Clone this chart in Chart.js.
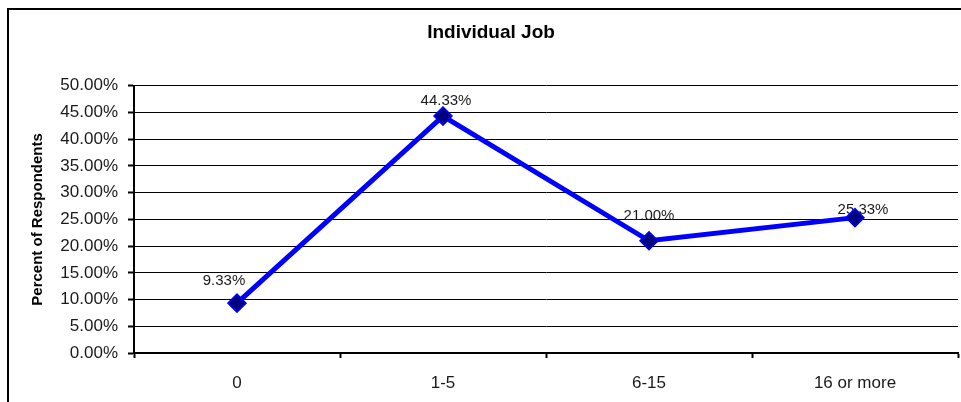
<!DOCTYPE html>
<html lang="en">
<head>
  <meta charset="UTF-8">
  <title>Individual Job</title>
  <script src="https://cdn.jsdelivr.net/npm/chart.js"></script>
  <style>
    html, body { margin: 0; padding: 0; background: #fff; overflow: hidden; }
    .wrap { position: relative; width: 961px; height: 402px; }
    .moldura { position: absolute; left: 7px; top: 8px; width: 1000px; height: 500px; border: 2px solid #000; box-sizing: border-box; }
    canvas { position: absolute; left: 0; top: 0; }
  </style>
</head>
<body>
  <div class="wrap">
    <div class="moldura"></div>
    <canvas id="grafico" width="961" height="402"></canvas>
  </div>

  <script>
    const categorias = ['0', '1-5', '6-15', '16 or more'];
    const percentuais = [9.33, 44.33, 21.00, 25.33];
    const rotulos = ['9.33%', '44.33%', '21.00%', '25.33%'];

    const fonte = "'Liberation Sans', Arial, sans-serif";

    // rotulos desenhados antes da linha (a linha passa por cima)
    const pluginRotulos = {
      id: 'rotulos',
      beforeDatasetsDraw(chart, args, opts) {
        const ctx = chart.ctx;
        const meta = chart.getDatasetMeta(0);
        ctx.save();
        ctx.font = '15px ' + fonte;
        ctx.fillStyle = '#1a1a1a';
        ctx.textAlign = 'center';
        ctx.textBaseline = 'middle';
        meta.data.forEach((pt, i) => {
          const d = opts.desloc[i];
          ctx.fillText(rotulos[i], pt.x + d[0], pt.y + d[1]);
        });
        ctx.restore();
      }
    };

    const ctx = document.getElementById('grafico').getContext('2d');
    const grafico = new Chart(ctx, {
      type: 'line',
      data: {
        labels: categorias,
        datasets: [{
          label: 'Individual Job',
          data: percentuais,
          borderColor: '#0000FF',
          borderWidth: 5,
          tension: 0,
          fill: false,
          pointStyle: 'rectRot',
          pointRadius: 9,
          pointHoverRadius: 9,
          pointBackgroundColor: '#000080',
          pointBorderColor: '#0000FF',
          pointBorderWidth: 1.5
        }]
      },
      plugins: [pluginRotulos],
      options: {
        responsive: false,
        animation: false,
        layout: { autoPadding: false, padding: { left: 24, right: 3, top: 0, bottom: 0 } },
        plugins: {
          legend: { display: false },
          tooltip: { enabled: false },
          title: {
            display: true,
            text: 'Individual Job',
            color: '#000',
            font: { family: fonte, size: 19, weight: 'bold' },
            padding: { top: 21, bottom: 42 }
          },
          rotulos: {
            desloc: [[-13, -22], [3, -15], [0, -25], [8, -8]]
          }
        },
        scales: {
          x: {
            offset: true,
            afterFit: (s) => { s.height = 49; s.paddingLeft = 0; s.paddingRight = 0; },
            grid: {
              offset: true,
              drawOnChartArea: false,
              drawTicks: true,
              tickLength: 5,
              tickColor: '#000',
              tickWidth: 2
            },
            border: { display: true, color: '#000', width: 2 },
            ticks: {
              color: '#1a1a1a',
              font: { family: fonte, size: 17 },
              padding: 15,
              maxRotation: 0
            }
          },
          y: {
            min: 0,
            max: 50,
            afterFit: (s) => { s.width = 110; },
            grid: {
              color: '#000',
              lineWidth: 1,
              tickLength: 6,
              tickColor: '#000',
              tickWidth: 2
            },
            border: { display: true, color: '#000', width: 2 },
            ticks: {
              stepSize: 5,
              color: '#1a1a1a',
              font: { family: fonte, size: 17 },
              padding: 10,
              callback: (v) => v.toFixed(2) + '%'
            },
            title: {
              display: true,
              text: 'Percent of Respondents',
              color: '#000',
              font: { family: fonte, size: 15, weight: 'bold' },
              padding: { top: 5, bottom: 0 }
            }
          }
        }
      }
    });
  </script>
</body>
</html>
